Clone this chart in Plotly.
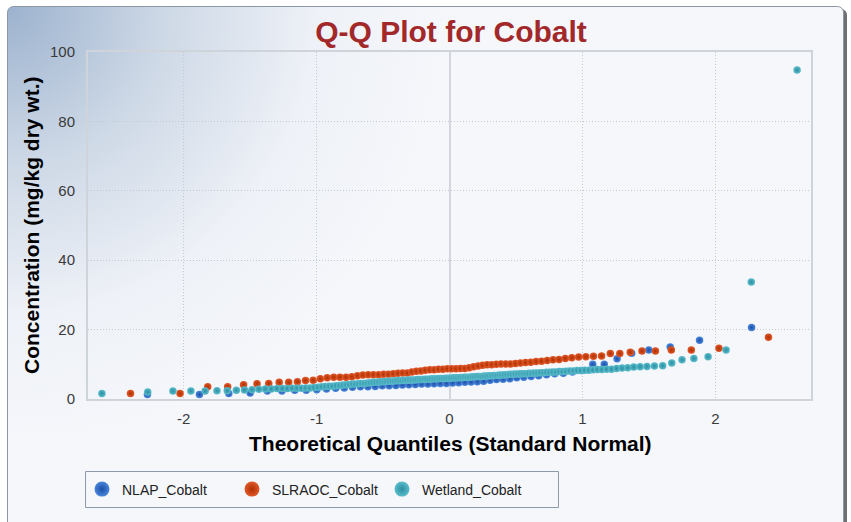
import base64
from statistics import NormalDist

import plotly.graph_objects as go

# Sorted cobalt concentrations (mg/kg dry wt.) for each sampling group
nlap_cobalt = [
    1.3, 1.3, 1.6, 1.7, 2.3, 2.3, 2.5, 2.5, 2.7, 2.9,
    3.1, 3.2, 3.4, 3.5, 3.5, 3.6, 3.8, 3.8, 3.9, 4.0,
    4.1, 4.2, 4.3, 4.3, 4.4, 4.5, 4.5, 4.6, 4.7, 4.8,
    4.9, 5.0, 5.1, 5.4, 5.6, 5.7, 5.8, 6.1, 6.3, 6.5,
    6.7, 7.0, 7.3, 7.4, 7.8, 8.2, 10.0, 10.0, 11.6, 13.2,
    14.1, 15.0, 16.9, 20.6,
]
slraoc_cobalt = [
    1.6, 1.6, 3.5, 3.5, 4.1, 4.4, 4.5, 4.8, 4.8, 5.0,
    5.3, 5.4, 5.8, 6.1, 6.3, 6.3, 6.3, 6.4, 6.7, 6.9,
    7.0, 7.0, 7.0, 7.1, 7.1, 7.3, 7.4, 7.5, 7.5, 7.8,
    8.0, 8.1, 8.3, 8.4, 8.4, 8.6, 8.6, 8.7, 8.7, 8.7,
    8.8, 8.8, 9.0, 9.3, 9.5, 9.7, 9.9, 9.9, 10.0, 10.1,
    10.1, 10.1, 10.2, 10.4, 10.5, 10.6, 10.8, 10.9, 11.1, 11.3,
    11.4, 11.7, 11.9, 12.1, 12.2, 12.3, 12.4, 13.1, 13.1, 13.5,
    13.8, 13.8, 14.1, 14.1, 14.6, 17.8,
]
wetland_cobalt = [
    1.6, 2.0, 2.3, 2.3, 2.3, 2.4, 2.4, 2.5, 2.6, 2.7,
    2.8, 2.9, 2.9, 3.0, 3.0, 3.0, 3.1, 3.1, 3.1, 3.2,
    3.2, 3.3, 3.4, 3.5, 3.6, 3.7, 3.7, 3.8, 3.9, 4.0,
    4.1, 4.2, 4.3, 4.3, 4.4, 4.5, 4.5, 4.6, 4.7, 4.8,
    4.8, 4.9, 5.0, 5.0, 5.1, 5.1, 5.2, 5.2, 5.3, 5.3,
    5.3, 5.4, 5.4, 5.5, 5.5, 5.5, 5.6, 5.6, 5.6, 5.7,
    5.7, 5.7, 5.8, 5.8, 5.8, 5.9, 5.9, 5.9, 6.0, 6.0,
    6.0, 6.1, 6.1, 6.1, 6.2, 6.2, 6.3, 6.3, 6.3, 6.4,
    6.4, 6.5, 6.5, 6.5, 6.6, 6.6, 6.7, 6.7, 6.8, 6.8,
    6.9, 6.9, 7.0, 7.0, 7.1, 7.1, 7.2, 7.2, 7.3, 7.3,
    7.3, 7.4, 7.4, 7.5, 7.5, 7.6, 7.6, 7.7, 7.7, 7.8,
    7.8, 7.9, 7.9, 8.0, 8.1, 8.1, 8.2, 8.2, 8.3, 8.3,
    8.4, 8.5, 8.5, 8.6, 8.6, 8.8, 8.9, 9.0, 9.2, 9.3,
    9.4, 9.5, 9.6, 10.4, 11.3, 11.7, 12.2, 14.1, 33.7, 94.8,
]

series_names = ["NLAP_Cobalt", "SLRAOC_Cobalt", "Wetland_Cobalt"]
series_values = [nlap_cobalt, slraoc_cobalt, wetland_cobalt]
x_tick_values = [-2, -1, 0, 1, 2]
y_tick_values = [0, 20, 40, 60, 80, 100]

# marker colours: (face, rim) for the shaded spheres
series_colors = [("#4a86dc", "#1b4fa6"), ("#e0582a", "#b02f00"), ("#5bbccb", "#2a8fa2")]

W, H = 851, 522
L, R, T, B = 88, 40, 52, 123
PW, PH = W - L - R, H - T - B
FONT = "Liberation Sans, Arial, sans-serif"


def blom_quantiles(n):
    """Theoretical standard-normal quantiles using Blom plotting positions."""
    nd = NormalDist()
    return [nd.inv_cdf((i - 0.375) / (n + 0.25)) for i in range(1, n + 1)]


def px_x(px):
    return (px - L) / PW


def px_y(py):
    return (H - B - py) / PH


# panel background: rounded frame with a soft blue glow in the upper-left corner
svg = f"""<svg xmlns="http://www.w3.org/2000/svg" width="{W}" height="{H}" viewBox="0 0 {W} {H}">
<defs>
<radialGradient id="glow" gradientUnits="userSpaceOnUse" cx="8" cy="6" r="440">
<stop offset="0" stop-color="#9cb2ce"/>
<stop offset="0.35" stop-color="#cdd8e6"/>
<stop offset="0.7" stop-color="#eef1f7"/>
<stop offset="1" stop-color="#f5f7fb"/>
</radialGradient>
</defs>
<rect width="{W}" height="{H}" fill="#ffffff"/>
<rect x="10" y="9" width="837" height="530" rx="6" fill="#707070"/>
<rect x="7.5" y="6.5" width="836" height="530" rx="6" fill="url(#glow)" stroke="#8c97a5" stroke-width="1"/>
</svg>"""
bg_uri = "data:image/svg+xml;base64," + base64.b64encode(svg.encode()).decode()

fig = go.Figure()

for name, values, (face, rim) in zip(series_names, series_values, series_colors):
    fig.add_trace(
        go.Scatter(
            x=blom_quantiles(len(values)),
            y=values,
            mode="markers",
            name=name,
            legendgroup=name,
            showlegend=False,
            marker=dict(
                size=7.5,
                color=face,
                gradient=dict(type="radial", color=rim),
                line=dict(width=0),
            ),
            hovertemplate="z=%{x:.2f}<br>%{y} mg/kg<extra>" + name + "</extra>",
        )
    )

# larger sphere swatches for the legend
for name, (face, rim) in zip(series_names, series_colors):
    fig.add_trace(
        go.Scatter(
            x=[None],
            y=[None],
            mode="markers",
            name=name,
            legendgroup=name,
            marker=dict(size=15, color=face, gradient=dict(type="radial", color=rim)),
        )
    )

axis_font = dict(family=FONT, size=15, color="#3a3a3a")
grid_style = dict(
    showgrid=True,
    gridcolor="#c4c8cf",
    griddash="1px,2px",
    gridwidth=1,
    showline=True,
    mirror=True,
    linecolor="#cfd3da",
    linewidth=2,
    ticks="outside",
    tickcolor="rgba(0,0,0,0)",
    tickfont=axis_font,
)

fig.update_layout(
    width=W,
    height=H,
    margin=dict(l=L, r=R, t=T, b=B),
    paper_bgcolor="rgba(0,0,0,0)",
    plot_bgcolor="rgba(0,0,0,0)",
    font=dict(family=FONT),
    images=[
        dict(
            source=bg_uri,
            xref="paper",
            yref="paper",
            x=-L / PW,
            y=1 + T / PH,
            sizex=W / PW,
            sizey=H / PH,
            xanchor="left",
            yanchor="top",
            sizing="stretch",
            layer="below",
        )
    ],
    title=dict(
        text="<b>Q-Q Plot for Cobalt</b>",
        font=dict(family=FONT, size=30, color="#a2282a"),
        x=451 / W,
        xanchor="center",
        y=1 - 31 / H,
        yanchor="middle",
    ),
    xaxis=dict(
        range=[-2.72, 2.72],
        tickvals=x_tick_values,
        ticktext=[str(v) for v in x_tick_values],
        ticklen=5,
        zeroline=True,
        zerolinecolor="#d3d7dd",
        zerolinewidth=2,
        **grid_style,
    ),
    yaxis=dict(
        range=[0, 100],
        tickvals=y_tick_values,
        ticktext=[str(v) for v in y_tick_values],
        ticklen=8,
        zeroline=False,
        **grid_style,
    ),
    legend=dict(
        orientation="h",
        x=px_x(82),
        y=px_y(489.5),
        xanchor="left",
        yanchor="middle",
        bgcolor="rgba(0,0,0,0)",
        borderwidth=0,
        font=dict(family=FONT, size=14, color="#222222"),
        entrywidth=105,
        entrywidthmode="pixels",
        itemsizing="trace",
    ),
    shapes=[
        dict(
            type="rect",
            xref="paper",
            yref="paper",
            x0=px_x(85.5),
            x1=px_x(558.5),
            y0=px_y(471.5),
            y1=px_y(507.5),
            line=dict(color="#8e9aac", width=1),
            fillcolor="#f5f7fb",
            layer="below",
        )
    ],
    annotations=[
        dict(
            text="<b>Theoretical Quantiles (Standard Normal)</b>",
            xref="paper",
            yref="paper",
            x=px_x(450),
            y=px_y(443),
            xanchor="center",
            yanchor="middle",
            showarrow=False,
            font=dict(family=FONT, size=21, color="#000000"),
        ),
        dict(
            text="<b>Concentration (mg/kg dry wt.)</b>",
            xref="paper",
            yref="paper",
            x=px_x(31),
            y=px_y(225),
            xanchor="center",
            yanchor="middle",
            textangle=-90,
            showarrow=False,
            font=dict(family=FONT, size=21, color="#000000"),
        ),
    ],
)

fig.write_html("out.html")
